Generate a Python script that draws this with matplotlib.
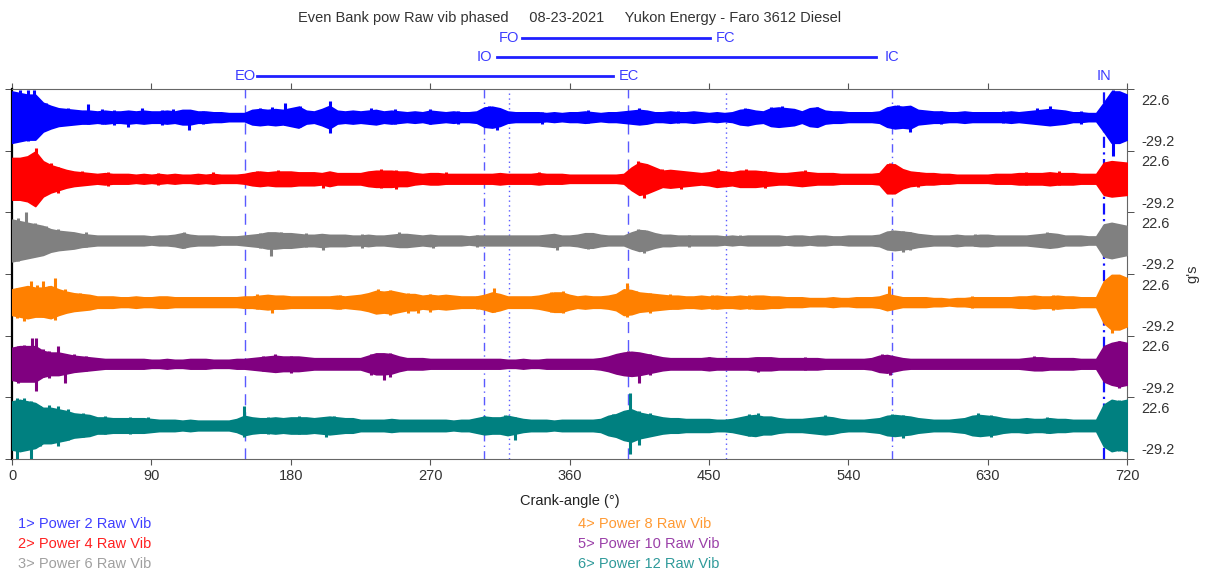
import numpy as np
import matplotlib
matplotlib.use("Agg")
import matplotlib.pyplot as plt
import matplotlib.transforms as mtransforms

plt.rcParams['font.family'] = ['Liberation Sans', 'DejaVu Sans']

angles = list(range(0, 721, 5))

# half-width of each vibration band (g) at every knot
power2 = [32, 30, 28, 28, 18, 14, 11, 10, 9, 8, 8, 7, 8, 7, 7, 8, 7, 8, 7, 7, 8, 7, 9, 9, 7, 7, 6, 6, 5, 5,
          5, 9, 10, 9, 10, 9, 11, 13, 8, 7, 10, 14, 8, 7, 8, 7, 8, 9, 7, 8, 7, 6, 7, 6, 8, 7, 6, 7, 6, 6,
          7, 12, 13, 11, 7, 6, 6, 6, 6, 5, 6, 5, 6, 6, 7, 6, 5, 6, 6, 7, 8, 9, 8, 6, 6, 7, 6, 6, 7, 6,
          5, 6, 5, 6, 9, 10, 8, 7, 11, 12, 11, 10, 7, 11, 12, 8, 7, 7, 6, 6, 6, 6, 7, 12, 14, 13, 14, 9, 8, 7,
          7, 6, 6, 7, 6, 6, 6, 6, 6, 7, 6, 7, 8, 9, 10, 9, 8, 6, 6, 5, 5, 18, 32, 32, 28]
power4 = [26, 26, 28, 34, 22, 17, 14, 11, 9, 8, 7, 6, 7, 6, 6, 6, 5, 6, 5, 6, 5, 6, 5, 5, 6, 5, 6, 5, 5, 5,
          6, 8, 9, 8, 9, 9, 9, 8, 8, 8, 7, 9, 7, 7, 7, 7, 9, 10, 10, 10, 9, 9, 7, 6, 7, 7, 6, 6, 6, 6,
          6, 6, 6, 7, 6, 6, 6, 6, 7, 6, 6, 6, 5, 5, 5, 5, 5, 5, 5, 6, 14, 20, 18, 14, 10, 11, 10, 9, 8, 7,
          8, 10, 9, 8, 10, 10, 10, 9, 8, 7, 7, 8, 9, 8, 7, 7, 7, 6, 6, 6, 6, 6, 7, 18, 18, 12, 9, 8, 7, 7,
          6, 6, 5, 5, 5, 5, 5, 6, 6, 6, 7, 7, 7, 7, 8, 7, 7, 7, 6, 6, 6, 20, 22, 21, 20]
power6 = [26, 24, 22, 20, 18, 14, 12, 11, 10, 8, 7, 6, 6, 6, 6, 6, 6, 6, 5, 6, 6, 7, 9, 7, 6, 6, 6, 5, 5, 5,
          6, 7, 8, 10, 10, 9, 9, 8, 7, 7, 8, 7, 7, 7, 6, 6, 7, 6, 6, 7, 8, 8, 7, 6, 7, 6, 6, 6, 6, 5,
          6, 6, 6, 6, 6, 6, 6, 6, 6, 7, 8, 6, 6, 7, 9, 9, 7, 6, 6, 6, 10, 13, 12, 9, 7, 7, 6, 6, 6, 6,
          6, 6, 5, 6, 5, 6, 6, 6, 6, 6, 5, 6, 6, 5, 6, 6, 5, 5, 6, 6, 6, 6, 7, 11, 12, 11, 10, 8, 7, 6,
          6, 6, 7, 6, 6, 7, 7, 6, 6, 6, 6, 6, 7, 8, 9, 8, 6, 6, 6, 5, 5, 20, 22, 20, 18]
power8 = [16, 18, 20, 18, 18, 20, 16, 13, 11, 10, 9, 7, 7, 7, 6, 6, 7, 6, 6, 7, 7, 6, 6, 6, 6, 6, 6, 6, 6, 6,
          7, 7, 8, 9, 8, 8, 7, 7, 7, 7, 7, 7, 8, 7, 8, 9, 11, 14, 13, 14, 12, 10, 10, 8, 9, 8, 9, 8, 7, 7,
          7, 9, 12, 10, 7, 7, 7, 7, 8, 10, 12, 12, 9, 7, 8, 7, 7, 8, 10, 16, 15, 12, 11, 10, 9, 8, 8, 7, 7, 8,
          7, 8, 7, 7, 8, 7, 8, 8, 7, 7, 6, 6, 6, 5, 5, 5, 6, 5, 5, 6, 6, 6, 7, 10, 8, 6, 6, 6, 6, 5,
          5, 4, 5, 5, 6, 6, 6, 6, 6, 6, 7, 7, 8, 7, 7, 8, 7, 7, 6, 6, 6, 26, 34, 34, 30]
power10 = [20, 22, 22, 22, 16, 14, 14, 12, 10, 9, 8, 7, 6, 6, 6, 6, 6, 6, 5, 5, 6, 5, 5, 6, 6, 6, 5, 5, 5, 6,
           6, 7, 8, 9, 10, 9, 9, 9, 8, 7, 7, 7, 7, 7, 7, 7, 10, 13, 13, 12, 9, 7, 7, 7, 6, 6, 6, 6, 6, 6,
           6, 6, 6, 6, 5, 5, 6, 5, 5, 6, 6, 6, 6, 6, 6, 6, 7, 9, 12, 14, 15, 14, 12, 10, 8, 7, 7, 7, 7, 7,
           8, 7, 7, 7, 7, 7, 8, 8, 8, 7, 7, 7, 7, 7, 7, 6, 6, 6, 6, 6, 6, 7, 10, 11, 9, 7, 6, 6, 6, 6,
           6, 6, 6, 6, 6, 6, 6, 6, 6, 6, 6, 7, 8, 8, 7, 7, 7, 7, 6, 6, 6, 22, 26, 28, 26]
power12 = [30, 32, 30, 28, 22, 22, 20, 18, 15, 14, 13, 10, 10, 9, 9, 9, 9, 9, 8, 7, 7, 7, 6, 7, 6, 6, 6, 6, 6, 8,
           12, 10, 9, 9, 10, 9, 10, 10, 10, 9, 10, 11, 10, 9, 9, 7, 7, 7, 7, 8, 7, 7, 7, 7, 7, 7, 7, 6, 7, 7,
           9, 11, 10, 10, 12, 10, 8, 7, 7, 7, 6, 7, 7, 7, 7, 7, 8, 12, 14, 18, 20, 16, 14, 12, 10, 9, 9, 8, 8, 8,
           8, 7, 7, 8, 10, 12, 13, 11, 11, 9, 8, 8, 8, 9, 10, 11, 10, 8, 7, 7, 7, 8, 9, 12, 13, 12, 11, 9, 8, 7,
           7, 7, 8, 9, 12, 13, 12, 11, 9, 8, 8, 9, 8, 8, 9, 8, 8, 7, 7, 7, 7, 26, 32, 30, 32]

# spikes sticking out of the band: (angle, peak above, peak below) in g
spikes2 = [(5, 34, 28), (10, 34, 30), (14, 34, 26), (22, 18, 14), (28, 12, 10), (36, 12, 8), (49, 16, 8),
           (58, 10, 8), (66, 9, 10), (75, 8, 12), (84, 11, 7), (97, 9, 10), (104, 10, 7), (114, 8, 16),
           (123, 8, 9), (160, 12, 10), (168, 13, 8), (176, 18, 10), (186, 14, 12), (205, 20, 20),
           (232, 11, 8), (247, 10, 9), (270, 10, 8), (288, 8, 9), (308, 14, 12), (313, 10, 16), (342, 7, 8),
           (372, 9, 7), (405, 11, 9), (430, 8, 7), (473, 12, 9), (490, 13, 11), (497, 14, 8), (520, 13, 10),
           (572, 15, 12), (580, 10, 18), (600, 8, 9), (640, 8, 7), (662, 12, 9), (670, 14, 8), (690, 8, 9),
           (711, 34, 48)]
spikes4 = [(8, 26, 26), (15.7, 38, 22), (25, 20, 16), (30, 15, 18), (45, 10, 8), (62, 8, 9), (94, 7, 8),
           (130, 8, 6), (158, 10, 8), (172, 11, 9), (201, 6, 12), (238, 12, 11), (248, 11, 13), (280, 8, 7),
           (340, 9, 7), (404, 22, 12), (408, 12, 24), (420, 12, 10), (432, 9, 13), (456, 12, 9),
           (474, 12, 10), (486, 10, 11), (512, 11, 8), (567, 20, 18), (585, 9, 10), (655, 9, 8),
           (676, 10, 8), (710, 22, 22)]
spikes6 = [(4, 28, 26), (9, 35, 20), (15, 22, 18), (22, 18, 16), (30, 14, 12), (48, 10, 8), (111, 11, 9),
           (160, 9, 10), (167, 8, 20), (174, 11, 9), (190, 9, 8), (201, 6, 12), (226, 8, 9), (250, 10, 8),
           (272, 6, 10), (300, 7, 8), (352, 6, 12), (372, 8, 11), (404, 14, 12), (408, 13, 16), (437, 7, 8),
           (470, 7, 6), (568, 13, 11), (575, 12, 14), (580, 11, 12), (622, 8, 7), (668, 10, 8)]
spikes8 = [(3, 18, 20), (8, 18, 24), (12.5, 26, 16), (16, 22, 16), (20, 26, 18), (24, 20, 18),
           (27.5, 30, 22), (34, 16, 14), (44, 12, 10), (158, 10, 8), (168, 6, 14), (212, 9, 8),
           (236, 16, 14), (244, 15, 16), (256, 12, 13), (262, 6, 14), (270, 10, 12), (300, 8, 9),
           (311, 18, 12), (348, 13, 12), (356, 14, 13), (397, 24, 18), (403, 14, 12), (412, 12, 13),
           (425, 10, 8), (452, 9, 8), (476, 9, 8), (566, 20, 8), (620, 8, 7), (672, 9, 10), (710, 32, 38)]
spikes10 = [(4, 22, 24), (8, 24, 22), (12.8, 32, 20), (15.6, 32, 34), (20, 18, 16), (24, 16, 18),
            (30, 22, 14), (34, 12, 24), (40, 12, 10), (48, 10, 9), (162, 10, 9), (170, 12, 10),
            (180, 10, 12), (232, 12, 14), (240, 12, 20), (244, 13, 16), (393, 14, 13), (398, 16, 14),
            (405, 14, 24), (412, 12, 14), (450, 9, 8), (482, 9, 10), (512, 9, 8), (562, 12, 10),
            (567, 8, 14), (660, 10, 8), (715, 28, 30)]
spikes12 = [(3, 34, 42), (8, 34, 30), (12, 30, 42), (18, 24, 26), (24, 26, 22), (30, 24, 26), (36, 20, 18),
            (46, 16, 14), (60, 12, 11), (76, 11, 10), (88, 10, 8), (150, 24, 14), (165, 10, 11),
            (185, 12, 11), (203, 10, 14), (208, 12, 10), (305, 12, 10), (318, 13, 11), (325, 10, 18),
            (388, 14, 13), (399, 40, 36), (405, 18, 24), (412, 15, 12), (476, 14, 13), (482, 15, 12),
            (525, 13, 11), (568, 14, 12), (575, 13, 15), (624, 15, 11), (632, 13, 14), (668, 10, 9),
            (715, 32, 32)]

names = ['1> Power 2 Raw Vib', '2> Power 4 Raw Vib', '3> Power 6 Raw Vib',
         '4> Power 8 Raw Vib', '5> Power 10 Raw Vib', '6> Power 12 Raw Vib']
colors = ['#0000ff', '#ff0000', '#808080', '#ff8000', '#800080', '#008080']
legend_colors = ['#3f3fff', '#ff2020', '#a0a0a0', '#ff9a33', '#9a3fa8', '#2f9a9a']
bands = [power2, power4, power6, power8, power10, power12]
spikes = [spikes2, spikes4, spikes6, spikes8, spikes10, spikes12]

# valve events (deg)
events = {'EO': 150.5, 'EC': 398, 'IO': 305, 'IC': 568, 'FO': 321, 'FC': 461, 'IN': 705}

scale_top = 22.6
scale_bot = -29.2

fig = plt.figure(figsize=(12.14, 5.72), dpi=100)
ax = fig.add_axes([0.0099, 0.1976, 0.9185, 0.6469])

T = 77.0  # height of one track in g
mid = (scale_top + scale_bot) / 2
x = np.array(angles)
for k in range(6):
    zero = (5 - k) * T + T / 2 - mid
    amp = np.array(bands[k])
    ax.fill_between(x, zero - amp, zero + amp, color=colors[k], lw=1.2, zorder=3)
    for a, up, dn in spikes[k]:
        ax.vlines(a, zero - dn, zero + up, color=colors[k], lw=2.2, zorder=3)

# vertical event lines
ax.axvline(events['EO'], color='#5a5aff', lw=1, ls=(0, (8, 5)), zorder=1)
ax.axvline(events['EC'], color='#5a5aff', lw=1, ls=(0, (8, 5)), zorder=1)
ax.axvline(events['IO'], color='#5a5aff', lw=1, ls=(0, (6, 3, 1, 3)), zorder=1)
ax.axvline(events['IC'], color='#5a5aff', lw=1, ls=(0, (6, 3, 1, 3)), zorder=1)
ax.axvline(events['FO'], color='#5a5aff', lw=1, ls=(0, (1, 2.5)), zorder=1)
ax.axvline(events['FC'], color='#5a5aff', lw=1, ls=(0, (1, 2.5)), zorder=1)
ax.axvline(events['IN'], color='#1010ff', lw=1.6, ls=(0, (5, 2, 1, 2)), zorder=1)

ax.set_xlim(0, 720)
ax.set_ylim(0, 6 * T)
ax.set_xticks(range(0, 721, 90))
ax.tick_params(axis='x', top=True, direction='out', length=4, labelsize=10.5,
               labelcolor='#333333', color='#555555', pad=3)

# track boundaries as minor ticks, scale values as labelled right ticks
ax.set_yticks([i * T for i in range(7)], minor=True)
lab_pos, lab_txt = [], []
for k in range(6):
    zero = (5 - k) * T + T / 2 - mid
    lab_pos += [zero + scale_top, zero + scale_bot]
    lab_txt += ['22.6', '-29.2']
ax.set_yticks(lab_pos)
ax.set_yticklabels(lab_txt)
ax.tick_params(axis='y', which='major', left=False, right=True, labelleft=False, labelright=True,
               length=0, labelsize=10.5, labelcolor='#333333', pad=10)
ax.tick_params(axis='y', which='minor', left=True, right=True, direction='out', length=5, color='#333333')

for side in ['top', 'bottom', 'right']:
    ax.spines[side].set_color('#666666')
ax.spines['left'].set_color('black')
ax.spines['left'].set_linewidth(1.6)

ax.set_xlabel('Crank-angle (°)', fontsize=10.5, color='#222222', labelpad=8)
ax.yaxis.set_label_position('right')
ax.set_ylabel("g's", fontsize=10.5, color='#333333', labelpad=8)

# title and valve event bars above the axes
fig.text(569.5 / 1214, 1 - 18 / 572,
         'Even Bank pow Raw vib phased     08-23-2021     Yukon Energy - Faro 3612 Diesel',
         fontsize=10.5, color='#333333', ha='center', va='center')
trans = mtransforms.blended_transform_factory(ax.transData, fig.transFigure)
ev_color = '#3c3cff'
bars = [('FO', 'FC', 38), ('IO', 'IC', 57), ('EO', 'EC', 76)]
for a, b, yp in bars:
    yf = 1 - yp / 572
    ax.text(events[a], yf, a, transform=trans, ha='center', va='center',
            fontsize=10.5, color=ev_color, clip_on=False)
    ax.text(events[b], yf, b, transform=trans, ha='center', va='center',
            fontsize=10.5, color=ev_color, clip_on=False)
    ax.plot([events[a] + 8, events[b] - 10], [yf, yf], transform=trans,
            color='#2020ff', lw=2, clip_on=False)
ax.text(events['IN'], 1 - 76 / 572, 'IN', transform=trans, ha='center', va='center',
        fontsize=10.5, color=ev_color, clip_on=False)

# legend as coloured text rows
for i, name in enumerate(names):
    col = i // 3
    row = i % 3
    fig.text((18 if col == 0 else 578) / 1214, 1 - (524 + row * 20) / 572, name,
             fontsize=10.5, color=legend_colors[i], va='center', ha='left')

fig.savefig('out.png', dpi=100)
